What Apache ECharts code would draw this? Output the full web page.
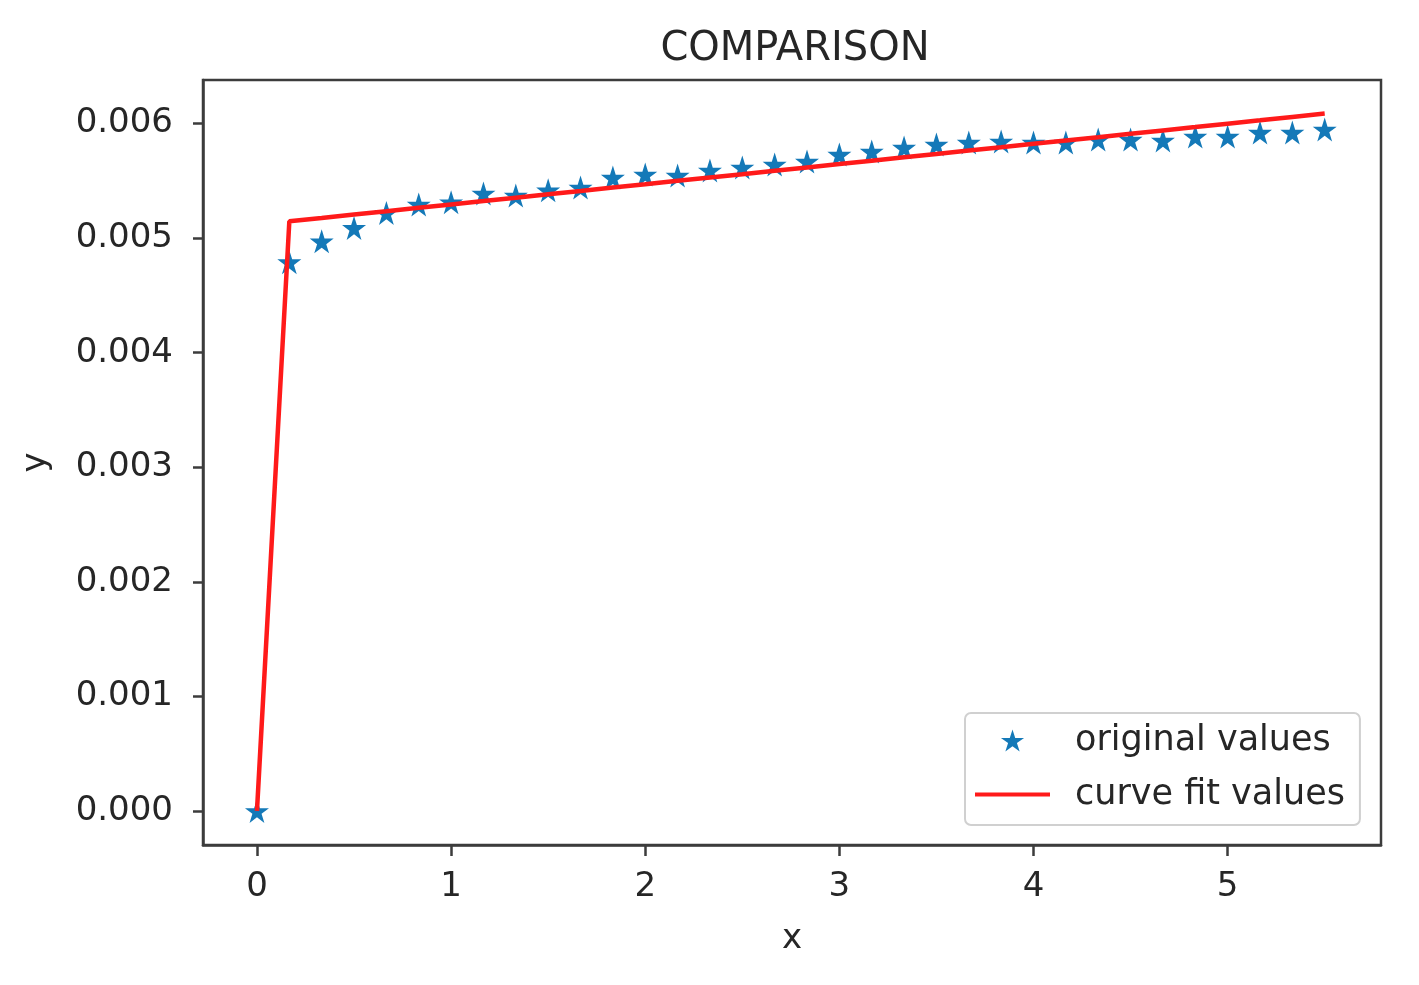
<!DOCTYPE html>
<html><head><meta charset="utf-8">
<script src="https://cdn.jsdelivr.net/npm/echarts@6/dist/echarts.min.js"></script>
<style>html,body{margin:0;padding:0;background:#fff}#c{width:1419px;height:985px}</style>
</head><body><div id="c"></div>
<script>
// x positions (i/6 steps)
const xValues = [0,0.1667,0.3333,0.5,0.6667,0.8333,1,1.1667,1.3333,1.5,1.6667,1.8333,2,2.1667,2.3333,2.5,2.6667,2.8333,3,3.1667,3.3333,3.5,3.6667,3.8333,4,4.1667,4.3333,4.5,4.6667,4.8333,5,5.1667,5.3333,5.5];
const originalValues = [0,0.004790,0.004972,0.005089,0.005220,0.005293,0.005313,0.005389,0.005371,0.005417,0.005441,0.005528,0.005555,0.005546,0.005590,0.005616,0.005642,0.005668,0.005729,0.005755,0.005790,0.005817,0.005834,0.005843,0.005834,0.005834,0.005860,0.005860,0.005852,0.005886,0.005886,0.005921,0.005921,0.005948];
const fitValues = [0,0.005147,0.005176,0.005206,0.005235,0.005265,0.005294,0.005323,0.005353,0.005382,0.005411,0.005441,0.005470,0.005500,0.005529,0.005558,0.005588,0.005617,0.005646,0.005676,0.005705,0.005734,0.005764,0.005793,0.005823,0.005852,0.005881,0.005911,0.005940,0.005969,0.005999,0.006028,0.006058,0.006087];
const xTicks = [0,1,2,3,4,5];
const yTicks = [0,0.001,0.002,0.003,0.004,0.005,0.006];

const FONT = 'DejaVu Sans';
const TXT = '#262626';
const AX = '#3c3c3c';
const STAR = 'path://M0,-1 L0.2245,-0.309 L0.951,-0.309 L0.363,0.118 L0.588,0.809 L0,0.382 L-0.588,0.809 L-0.363,0.118 L-0.951,-0.309 L-0.2245,-0.309 Z';
const LINEICON = 'path://M0,0 L75,0 L75,4 L0,4 Z';

const chart = echarts.init(document.getElementById('c'));
chart.setOption({
  animation: false,
  backgroundColor: '#fff',
  title: { text: 'COMPARISON', left: 790, textAlign: 'center', top: 25,
    textStyle: { fontFamily: FONT, fontSize: 40, fontWeight: 'normal', color: TXT } },
  grid: { left: 203, right: 38, top: 80, bottom: 140, show: true, borderColor: AX, borderWidth: 2.5, backgroundColor: 'transparent' },
  xAxis: { type: 'value', min: -0.278, max: 5.79,
    name: 'x', nameLocation: 'middle', nameGap: 77,
    nameTextStyle: { fontFamily: FONT, fontSize: 34, color: TXT },
    axisLine: { show: true, onZero: false, lineStyle: { color: AX, width: 2.5 } },
    axisTick: { show: true, customValues: xTicks, length: 11, inside: false, lineStyle: { color: AX, width: 2.5 } },
    axisLabel: { customValues: xTicks, fontFamily: FONT, fontSize: 34, color: TXT, margin: 25, formatter: v => String(Math.round(v)) },
    splitLine: { show: false } },
  yAxis: { type: 'value', min: -0.000297, max: 0.00638,
    name: 'y', nameLocation: 'middle', nameGap: 150, nameRotate: 90,
    nameTextStyle: { fontFamily: FONT, fontSize: 34, color: TXT },
    axisLine: { show: true, onZero: false, lineStyle: { color: AX, width: 2.5 } },
    axisTick: { show: true, customValues: yTicks, length: 10, lineStyle: { color: AX, width: 2.5 } },
    axisLabel: { customValues: yTicks, fontFamily: FONT, fontSize: 34, color: TXT, margin: 30, formatter: v => v.toFixed(3) },
    splitLine: { show: false } },
  legend: {
    orient: 'vertical', left: 965, top: 713,
    backgroundColor: '#fff', borderColor: '#d0d0d0', borderWidth: 2, borderRadius: 6,
    padding: [10, 15, 13, 10], itemWidth: 75, itemHeight: 22, itemGap: 19,
    textStyle: { fontFamily: FONT, fontSize: 35, color: TXT, padding: [6, 0, 0, 20] },
    data: [ { name: 'original values', icon: STAR }, { name: 'curve fit values', icon: LINEICON } ]
  },
  series: [
    { name: 'original values', type: 'scatter', symbol: STAR, symbolSize: 24,
      itemStyle: { color: '#1479b8', opacity: 1 }, z: 2,
      data: xValues.map((x, i) => [x, originalValues[i]]) },
    { name: 'curve fit values', type: 'line', symbol: 'none', showSymbol: false,
      lineStyle: { color: '#ff1a1a', width: 4.5 }, itemStyle: { color: '#ff1a1a' }, z: 3,
      data: xValues.map((x, i) => [x, fitValues[i]]) }
  ]
});
</script></body></html>
